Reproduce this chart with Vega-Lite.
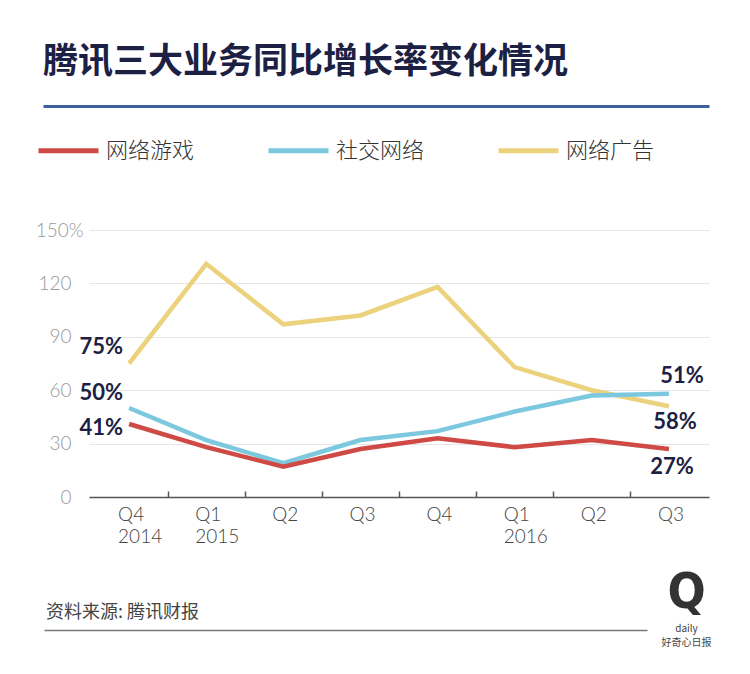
{
  "$schema": "https://vega.github.io/schema/vega-lite/v6.json",
  "background": "white",
  "padding": {"left": 35, "top": 45, "right": 5, "bottom": 5},
  "config": {
    "view": {"stroke": null},
    "font": "Noto Sans CJK SC"
  },
  "spacing": 22,
  "vconcat": [
    {
      "spacing": 115,
      "vconcat": [
        {
          "width": 620,
          "height": 0,
          "title": {
            "text": "腾讯三大业务同比增长率变化情况",
            "anchor": "start",
            "frame": "group",
            "dx": -46,
            "offset": 6,
            "font": "Noto Sans CJK SC",
            "fontSize": 35,
            "fontWeight": "bold",
            "color": "#1c2143"
          },
          "data": {"values": []},
          "mark": "point",
          "encoding": {
            "x": {
              "field": "x",
              "type": "quantitative",
              "scale": {"domain": [0, 1], "range": [-46, 620]},
              "axis": {
                "title": null,
                "labels": false,
                "ticks": false,
                "grid": false,
                "domainColor": "#3d5f9e",
                "domainWidth": 3
              }
            }
          }
        },
        {
          "width": 620,
          "height": 267,
          "data": {
            "values": [
              {"q": "Q4 2014", "s": "网络广告", "v": 75, "label": "75%"},
              {"q": "Q1 2015", "s": "网络广告", "v": 131},
              {"q": "Q2 2015", "s": "网络广告", "v": 97},
              {"q": "Q3 2015", "s": "网络广告", "v": 102},
              {"q": "Q4 2015", "s": "网络广告", "v": 118},
              {"q": "Q1 2016", "s": "网络广告", "v": 73},
              {"q": "Q2 2016", "s": "网络广告", "v": 60},
              {"q": "Q3 2016", "s": "网络广告", "v": 51, "label": "51%"},
              {"q": "Q4 2014", "s": "社交网络", "v": 50, "label": "50%"},
              {"q": "Q1 2015", "s": "社交网络", "v": 32},
              {"q": "Q2 2015", "s": "社交网络", "v": 19},
              {"q": "Q3 2015", "s": "社交网络", "v": 32},
              {"q": "Q4 2015", "s": "社交网络", "v": 37},
              {"q": "Q1 2016", "s": "社交网络", "v": 48},
              {"q": "Q2 2016", "s": "社交网络", "v": 57},
              {"q": "Q3 2016", "s": "社交网络", "v": 58, "label": "58%"},
              {"q": "Q4 2014", "s": "网络游戏", "v": 41, "label": "41%"},
              {"q": "Q1 2015", "s": "网络游戏", "v": 28},
              {"q": "Q2 2015", "s": "网络游戏", "v": 17},
              {"q": "Q3 2015", "s": "网络游戏", "v": 27},
              {"q": "Q4 2015", "s": "网络游戏", "v": 33},
              {"q": "Q1 2016", "s": "网络游戏", "v": 28},
              {"q": "Q2 2016", "s": "网络游戏", "v": 32},
              {"q": "Q3 2016", "s": "网络游戏", "v": 27, "label": "27%"}
            ]
          },
          "encoding": {
            "x": {
              "field": "q",
              "type": "ordinal",
              "sort": ["Q4 2014", "Q1 2015", "Q2 2015", "Q3 2015", "Q4 2015", "Q1 2016", "Q2 2016", "Q3 2016"],
              "scale": {"type": "point", "padding": 0.52},
              "axis": {
                "title": null,
                "grid": false,
                "labelAngle": 0,
                "labelExpr": "indexof(['Q4 2014', 'Q1 2015', 'Q1 2016'], datum.value) >= 0 ? split(datum.value, ' ') : slice(datum.value, 0, 2)",
                "labelAlign": "left",
                "labelBaseline": "top",
                "labelOffset": -50,
                "labelPadding": 14,
                "labelLineHeight": 22,
                "labelFont": "Lato",
                "labelFontSize": 19,
                "labelFontWeight": 300,
                "labelColor": "#444",
                "tickOffset": 38.5,
                "tickSize": -6,
                "tickWidth": 1.5,
                "tickColor": {"condition": {"test": "datum.value == 'Q3 2016'", "value": "transparent"}, "value": "#555"},
                "domainColor": "#555",
                "domainWidth": 1.5
              }
            },
            "y": {
              "field": "v",
              "type": "quantitative",
              "scale": {"domain": [0, 150]},
              "axis": {
                "title": null,
                "values": [0, 30, 60, 90, 120, 150],
                "labelExpr": "datum.value == 150 ? '150%' : datum.label",
                "ticks": false,
                "domain": false,
                "gridColor": "#e6e6e6",
                "gridWidth": 1.2,
                "labelFont": "Lato",
                "labelFontSize": 19,
                "labelFontWeight": 300,
                "labelColor": "#999",
                "labelPadding": {"condition": {"test": "datum.value == 150", "value": 6}, "value": 18}
              }
            }
          },
          "layer": [
            {
              "mark": {"type": "line", "strokeWidth": 4.5},
              "encoding": {
                "color": {
                  "field": "s",
                  "type": "nominal",
                  "sort": ["网络游戏", "社交网络", "网络广告"],
                  "scale": {
                    "domain": ["网络游戏", "社交网络", "网络广告"],
                    "range": ["#cf4a45", "#7cc8de", "#ecd27c"]
                  },
                  "legend": {
                    "title": null,
                    "orient": "none",
                    "legendX": -53,
                    "legendY": 32,
                    "direction": "horizontal",
                    "padding": 0,
                    "symbolType": "stroke",
                    "symbolSize": 3600,
                    "symbolStrokeWidth": 5,
                    "labelFont": "Noto Sans CJK SC",
                    "labelFontSize": 22,
                    "labelFontWeight": 300,
                    "labelColor": "#333",
                    "labelOffset": 5,
                    "labelLimit": 200,
                    "columnPadding": 63
                  }
                }
              }
            },
            {
              "transform": [{"filter": "datum.label == '75%'"}],
              "mark": {"type": "text", "align": "right", "dx": -6, "dy": -17, "font": "Lato", "fontSize": 22, "fontWeight": "bold", "color": "#1c2143"},
              "encoding": {"text": {"field": "label"}}
            },
            {
              "transform": [{"filter": "datum.label == '50%'"}],
              "mark": {"type": "text", "align": "right", "dx": -6, "dy": -15, "font": "Lato", "fontSize": 22, "fontWeight": "bold", "color": "#1c2143"},
              "encoding": {"text": {"field": "label"}}
            },
            {
              "transform": [{"filter": "datum.label == '41%'"}],
              "mark": {"type": "text", "align": "right", "dx": -6, "dy": 4, "font": "Lato", "fontSize": 22, "fontWeight": "bold", "color": "#1c2143"},
              "encoding": {"text": {"field": "label"}}
            },
            {
              "transform": [{"filter": "datum.label == '51%'"}],
              "mark": {"type": "text", "align": "right", "dx": 35, "dy": -30, "font": "Lato", "fontSize": 22, "fontWeight": "bold", "color": "#1c2143"},
              "encoding": {"text": {"field": "label"}}
            },
            {
              "transform": [{"filter": "datum.label == '58%'"}],
              "mark": {"type": "text", "align": "right", "dx": 28, "dy": 28, "font": "Lato", "fontSize": 22, "fontWeight": "bold", "color": "#1c2143"},
              "encoding": {"text": {"field": "label"}}
            },
            {
              "transform": [{"filter": "datum.label == '27%'"}],
              "mark": {"type": "text", "align": "right", "dx": 25, "dy": 18, "font": "Lato", "fontSize": 22, "fontWeight": "bold", "color": "#1c2143"},
              "encoding": {"text": {"field": "label"}}
            }
          ]
        }
      ]
    },
    {
      "spacing": -60,
      "hconcat": [
        {
          "width": 558,
          "height": 0,
          "title": {
            "text": "资料来源: 腾讯财报",
            "anchor": "start",
            "frame": "group",
            "dx": -43,
            "offset": -12,
            "font": "Noto Sans CJK SC",
            "fontSize": 18,
            "fontWeight": "normal",
            "color": "#444"
          },
          "data": {"values": []},
          "mark": "point",
          "encoding": {
            "x": {
              "field": "x",
              "type": "quantitative",
              "scale": {"domain": [0, 1], "range": [-45, 558]},
              "axis": {
                "title": null,
                "labels": false,
                "ticks": false,
                "grid": false,
                "domainColor": "#777",
                "domainWidth": 1.5
              }
            }
          }
        },
        {
          "width": 1,
          "height": 0,
          "title": {
            "text": "Q",
            "subtitle": ["daily", "好奇心日报"],
            "anchor": "middle",
            "frame": "group",
            "dx": -6,
            "offset": -38,
            "font": "DejaVu Sans Condensed",
            "fontSize": 50,
            "fontWeight": "bold",
            "color": "#333",
            "subtitleFont": "Noto Sans CJK SC",
            "subtitleFontSize": 10,
            "subtitleLineHeight": 14,
            "subtitleColor": "#444",
            "subtitlePadding": 6
          },
          "data": {"values": []},
          "mark": "point"
        }
      ]
    }
  ]
}
